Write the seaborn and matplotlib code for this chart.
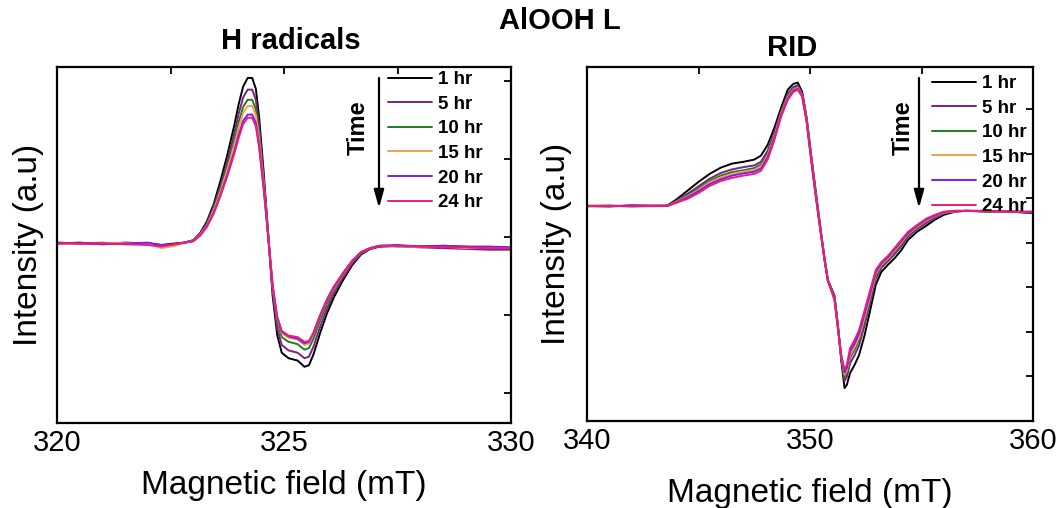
import pandas as pd
import matplotlib
matplotlib.use("Agg")
import matplotlib.pyplot as plt
import seaborn as sns
from matplotlib.patches import FancyArrowPatch
from matplotlib.ticker import FixedLocator, NullFormatter

times = ["1 hr", "5 hr", "10 hr", "15 hr", "20 hr", "24 hr"]
colors = ["#000000", "#7F1F85", "#1E7D1E", "#F2A14A", "#7A1CF0", "#F0197D"]

# H radicals panel (field in mT, intensity in a.u.)
h_field = [320, 320.5, 321, 321.5, 322, 322.3, 322.6, 322.8,
           323.0, 323.15, 323.3, 323.45, 323.6, 323.75, 323.9, 324.0, 324.1, 324.2, 324.3, 324.38,
           324.45, 324.55, 324.65, 324.75, 324.85, 324.95, 325.1, 325.3, 325.45, 325.55, 325.65,
           325.8, 325.95, 326.1, 326.3, 326.5, 326.7, 326.9, 327.1,
           327.5, 328, 328.5, 329, 329.5, 330]
h_1hr = [-0.08, -0.07, -0.09, -0.07, -0.08, -0.10, -0.08, -0.07,
         -0.04, 0.05, 0.20, 0.42, 0.72, 1.05, 1.42, 1.70, 1.93, 2.04, 2.04, 1.90,
         1.55, 0.85, 0.05, -0.75, -1.25, -1.48, -1.55, -1.58, -1.66, -1.64, -1.50,
         -1.22, -0.97, -0.77, -0.55, -0.36, -0.22, -0.15, -0.12,
         -0.11, -0.12, -0.12, -0.13, -0.15, -0.14]
h_5hr = [-0.08, -0.08, -0.07, -0.09, -0.08, -0.11, -0.09, -0.07,
         -0.04, 0.04, 0.18, 0.39, 0.66, 0.97, 1.32, 1.58, 1.79, 1.89, 1.89, 1.76,
         1.44, 0.78, 0.04, -0.70, -1.17, -1.38, -1.45, -1.48, -1.55, -1.53, -1.40,
         -1.14, -0.91, -0.72, -0.52, -0.34, -0.21, -0.15, -0.12,
         -0.11, -0.13, -0.14, -0.15, -0.16, -0.16]
h_10hr = [-0.07, -0.08, -0.08, -0.08, -0.09, -0.12, -0.10, -0.07,
          -0.05, 0.03, 0.16, 0.36, 0.62, 0.90, 1.23, 1.47, 1.67, 1.76, 1.76, 1.64,
          1.34, 0.73, 0.03, -0.66, -1.09, -1.28, -1.34, -1.37, -1.44, -1.42, -1.30,
          -1.06, -0.85, -0.67, -0.48, -0.32, -0.20, -0.14, -0.11,
          -0.12, -0.12, -0.11, -0.12, -0.14, -0.13]
h_15hr = [-0.08, -0.09, -0.08, -0.07, -0.08, -0.14, -0.11, -0.07,
          -0.05, 0.03, 0.15, 0.34, 0.58, 0.86, 1.17, 1.40, 1.59, 1.68, 1.68, 1.56,
          1.27, 0.69, 0.03, -0.63, -1.04, -1.23, -1.29, -1.31, -1.38, -1.36, -1.24,
          -1.01, -0.81, -0.65, -0.47, -0.31, -0.19, -0.14, -0.11,
          -0.11, -0.13, -0.12, -0.14, -0.13, -0.13]
h_20hr = [-0.07, -0.08, -0.09, -0.08, -0.07, -0.10, -0.09, -0.07,
          -0.05, 0.02, 0.14, 0.31, 0.54, 0.80, 1.09, 1.31, 1.49, 1.57, 1.57, 1.46,
          1.19, 0.65, 0.02, -0.62, -1.03, -1.21, -1.27, -1.30, -1.36, -1.34, -1.23,
          -1.00, -0.80, -0.64, -0.46, -0.31, -0.19, -0.14, -0.11,
          -0.10, -0.12, -0.11, -0.12, -0.12, -0.13]
h_24hr = [-0.08, -0.08, -0.08, -0.09, -0.10, -0.12, -0.09, -0.07,
          -0.05, 0.02, 0.13, 0.30, 0.53, 0.78, 1.06, 1.27, 1.45, 1.53, 1.53, 1.42,
          1.16, 0.63, 0.02, -0.62, -1.02, -1.20, -1.26, -1.28, -1.34, -1.33, -1.22,
          -0.99, -0.79, -0.63, -0.46, -0.30, -0.19, -0.14, -0.11,
          -0.11, -0.12, -0.13, -0.13, -0.14, -0.14]

# RID panel
r_field = [340, 341, 342, 343, 343.6,
           344.0, 344.5, 345.0, 345.5, 346.0, 346.5, 347.0, 347.5, 347.8,
           348.1, 348.4, 348.7, 349.0, 349.25, 349.45, 349.65, 349.85,
           350.05, 350.25, 350.45, 350.65, 350.8, 350.95,
           351.1, 351.25, 351.4, 351.55, 351.65, 351.8,
           352.0, 352.2, 352.45, 352.7, 352.95,
           353.2, 353.5, 353.8, 354.1, 354.4, 354.8,
           355.2, 355.6, 356.0, 356.5, 357, 358, 359, 360]
r_1hr = [0.83, 0.82, 0.84, 0.83, 0.84,
         0.97, 1.17, 1.37, 1.55, 1.69, 1.78, 1.82, 1.87, 1.96,
         2.20, 2.58, 3.03, 3.44, 3.57, 3.60, 3.39, 2.81,
         1.98, 1.19, 0.40, -0.34, -0.83, -1.01,
         -1.19, -1.84, -2.63, -3.26, -3.19, -2.92,
         -2.74, -2.52, -2.07, -1.51, -0.94,
         -0.65, -0.49, -0.34, -0.16, 0.07, 0.25,
         0.38, 0.52, 0.63, 0.70, 0.72, 0.70, 0.70, 0.67]
r_5hr = [0.82, 0.83, 0.83, 0.84, 0.83,
         0.94, 1.10, 1.27, 1.44, 1.57, 1.65, 1.70, 1.74, 1.82,
         2.07, 2.47, 2.95, 3.35, 3.50, 3.54, 3.35, 2.77,
         1.94, 1.15, 0.38, -0.36, -0.84, -1.03,
         -1.23, -1.87, -2.59, -3.10, -3.01, -2.70,
         -2.52, -2.30, -1.85, -1.33, -0.81,
         -0.56, -0.41, -0.25, -0.07, 0.14, 0.31,
         0.44, 0.56, 0.66, 0.71, 0.72, 0.71, 0.70, 0.68]
r_10hr = [0.83, 0.84, 0.82, 0.83, 0.83,
          0.93, 1.06, 1.22, 1.39, 1.51, 1.59, 1.63, 1.68, 1.76,
          2.00, 2.42, 2.91, 3.30, 3.46, 3.50, 3.32, 2.76,
          1.91, 1.12, 0.36, -0.36, -0.84, -1.04,
          -1.24, -1.88, -2.56, -3.01, -2.92, -2.58,
          -2.40, -2.18, -1.73, -1.24, -0.74,
          -0.52, -0.37, -0.20, -0.02, 0.18, 0.34,
          0.48, 0.59, 0.67, 0.71, 0.72, 0.71, 0.70, 0.69]
r_15hr = [0.84, 0.83, 0.83, 0.82, 0.83,
          0.92, 1.04, 1.19, 1.36, 1.47, 1.55, 1.60, 1.64, 1.72,
          1.96, 2.39, 2.89, 3.27, 3.44, 3.48, 3.31, 2.75,
          1.90, 1.11, 0.36, -0.37, -0.84, -1.05,
          -1.25, -1.89, -2.55, -2.96, -2.87, -2.52,
          -2.34, -2.12, -1.67, -1.19, -0.70,
          -0.49, -0.35, -0.17, 0.01, 0.20, 0.36,
          0.50, 0.60, 0.68, 0.71, 0.72, 0.71, 0.70, 0.69]
r_20hr = [0.83, 0.82, 0.84, 0.83, 0.83,
          0.91, 1.02, 1.16, 1.32, 1.43, 1.51, 1.56, 1.60, 1.67,
          1.92, 2.35, 2.86, 3.24, 3.42, 3.46, 3.30, 2.73,
          1.89, 1.10, 0.35, -0.37, -0.85, -1.05,
          -1.27, -1.90, -2.54, -2.91, -2.81, -2.44,
          -2.26, -2.04, -1.59, -1.13, -0.66,
          -0.46, -0.32, -0.14, 0.04, 0.22, 0.38,
          0.52, 0.61, 0.69, 0.72, 0.72, 0.72, 0.70, 0.70]
r_24hr = [0.83, 0.83, 0.82, 0.83, 0.83,
          0.90, 0.99, 1.12, 1.28, 1.39, 1.46, 1.51, 1.55, 1.62,
          1.87, 2.31, 2.83, 3.21, 3.39, 3.44, 3.28, 2.72,
          1.87, 1.08, 0.34, -0.38, -0.85, -1.06,
          -1.28, -1.91, -2.52, -2.85, -2.74, -2.36,
          -2.18, -1.96, -1.51, -1.06, -0.61,
          -0.43, -0.29, -0.11, 0.07, 0.25, 0.40,
          0.54, 0.63, 0.70, 0.72, 0.72, 0.72, 0.70, 0.70]


def long_frame(field, series):
    parts = [pd.DataFrame({"field": field, "intensity": vals, "time": lab})
             for lab, vals in zip(times, series)]
    return pd.concat(parts, ignore_index=True)


h_df = long_frame(h_field, [h_1hr, h_5hr, h_10hr, h_15hr, h_20hr, h_24hr])
r_df = long_frame(r_field, [r_1hr, r_5hr, r_10hr, r_15hr, r_20hr, r_24hr])

sns.set_style("white")
plt.rcParams["font.family"] = ["Liberation Sans", "DejaVu Sans"]
plt.rcParams.update({"text.color": "black", "axes.labelcolor": "black",
                     "xtick.color": "black", "ytick.color": "black"})

W, H = 1058, 508
fig = plt.figure(figsize=(W / 100, H / 100), dpi=100)


def fx(px):
    return px / W


def fy(py):
    return 1 - py / H


ax1 = fig.add_axes([fx(57), fy(423), fx(511 - 57), (423 - 67) / H])
ax2 = fig.add_axes([fx(587), fy(421), fx(1033 - 587), (421 - 67) / H])

panels = [
    (ax1, h_df, (320, 330), (-2.38, 2.18), [320, 325, 330], [322.5, 327.5], [-2, -1, 0, 1, 2], 5, 10),
    (ax2, r_df, (340, 360), (-4.0, 3.95), [340, 350, 360], [345, 355], [-3, -2, -1, 0, 1, 2, 3], 7, 17),
]
for ax, df, xl, yl, xmaj, xmin, yt, ylp, xlp in panels:
    sns.lineplot(data=df, x="field", y="intensity", hue="time", hue_order=times,
                 palette=colors, linewidth=1.4, errorbar=None, legend=False, ax=ax)
    ax.set_xlim(*xl)
    ax.set_ylim(*yl)
    ax.xaxis.set_major_locator(FixedLocator(xmaj))
    ax.xaxis.set_minor_locator(FixedLocator(xmin))
    ax.yaxis.set_major_locator(FixedLocator(yt))
    ax.yaxis.set_major_formatter(NullFormatter())
    ax.tick_params(which="both", direction="in", length=5, width=1.3,
                   top=True, right=True, labelsize=21, pad=4)
    for sp in ax.spines.values():
        sp.set_linewidth(1.6)
        sp.set_color("black")
    ax.set_xlabel("Magnetic field (mT)", fontsize=24, labelpad=xlp)
    ax.set_ylabel("Intensity (a.u)", fontsize=24, labelpad=ylp)

# legends
for ax, x0, y0 in [(ax1, 388, 71), (ax2, 932, 75)]:
    handles = [plt.Line2D([], [], color=c, lw=1.4) for c in colors]
    ax.legend(handles, times, loc="upper left", bbox_to_anchor=(fx(x0), fy(y0)),
              bbox_transform=fig.transFigure, frameon=False, borderpad=0, borderaxespad=0,
              handlelength=2.35, handletextpad=0.3, labelspacing=0.4,
              prop={"weight": "bold", "size": 13.5})

# "Time" arrows
for xa, xt in [(379, 358), (919, 903)]:
    fig.add_artist(FancyArrowPatch((fx(xa), fy(78)), (fx(xa), fy(208)), transform=fig.transFigure,
                                   arrowstyle="-|>,head_length=0.9,head_width=0.25",
                                   mutation_scale=12, lw=1.6, color="black",
                                   shrinkA=0, shrinkB=0))
    fig.text(fx(xt), fy(128), "Time", rotation=90, ha="center", va="center",
             fontsize=17, fontweight="bold")

fig.text(fx(291), fy(41), "H radicals", ha="center", va="center", fontsize=21, fontweight="bold")
fig.text(fx(560), fy(21), "AlOOH L", ha="center", va="center", fontsize=21, fontweight="bold")
fig.text(fx(792), fy(48), "RID", ha="center", va="center", fontsize=21, fontweight="bold")

fig.savefig("out.png", dpi=100)
